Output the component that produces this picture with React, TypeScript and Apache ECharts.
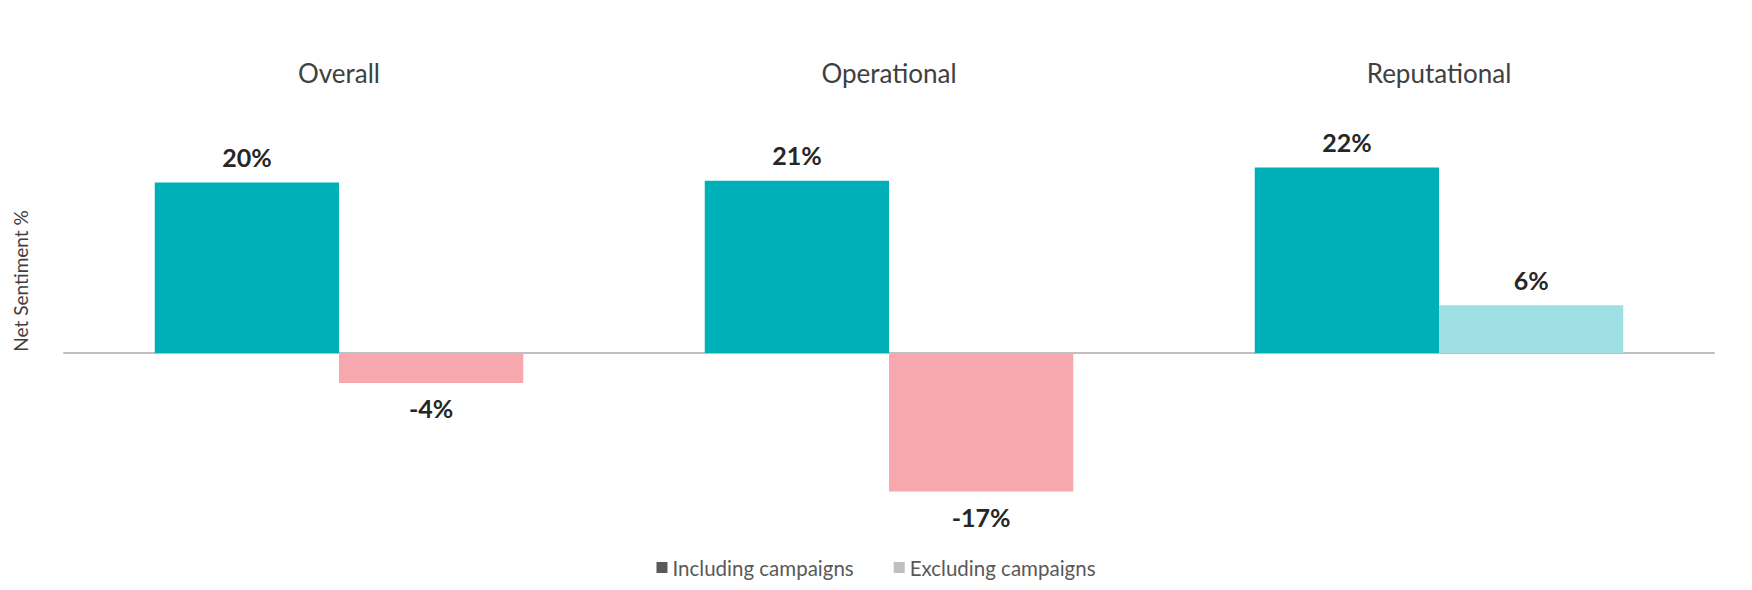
import React, { useEffect, useRef } from "react";
import * as echarts from "echarts";

const categories = ["Overall", "Operational", "Reputational"];
const seriesNames = ["Including campaigns", "Excluding campaigns"];
const including = [20.4, 20.6, 22.2];
const excluding = [-3.6, -16.6, 5.7];
const legendColors = ["#595959", "#BFBFBF"];

const TEAL = "#00B0B9";
const PINK = "#F7A8AF";
const LIGHT_TEAL = "#9DDFE3";

export default function App() {
  const ref = useRef<HTMLDivElement>(null);
  useEffect(() => {
    if (!ref.current) return;
    const chart = echarts.init(ref.current, undefined, { renderer: "svg" });
    const fmt = (p: any) => `${Math.round(p.value)}%`;
    const labelBase = {
      show: true,
      formatter: fmt,
      fontFamily: "Lato",
      fontSize: 25,
      fontWeight: "bold",
      color: "#262626",
    };
    const mkLabel = (v: number) => ({
      ...labelBase,
      position: v >= 0 ? "top" : "bottom",
      distance: v >= 0 ? 13 : 13,
    });
    chart.setOption({
      animation: false,
      textStyle: { fontFamily: "Lato" },
      grid: { left: 64, right: 38, top: 144, bottom: 70 },
      legend: {
        bottom: 7,
        left: "center",
        icon: "rect",
        itemWidth: 11,
        itemHeight: 11,
        itemGap: 40,
        textStyle: { fontFamily: "Lato", fontSize: 20.5, color: "#595959" },
        data: seriesNames.map((n, i) => ({ name: n, itemStyle: { color: legendColors[i] } })),
      },
      xAxis: [
        {
          type: "category",
          data: categories,
          axisLine: { onZero: true, lineStyle: { color: "#BFBFBF", width: 2 } },
          axisTick: { show: false },
          axisLabel: { show: false },
        },
        {
          type: "category",
          position: "top",
          data: categories,
          axisLine: { show: false },
          axisTick: { show: false },
          axisLabel: { margin: 58, fontFamily: "Lato", fontSize: 26, color: "#404040" },
        },
      ],
      yAxis: {
        type: "value",
        min: -20,
        max: 25,
        axisLine: { show: false },
        axisTick: { show: false },
        axisLabel: { show: false },
        splitLine: { show: false },
      },
      graphic: [
        {
          type: "text",
          x: 20,
          y: 281,
          rotation: Math.PI / 2,
          style: {
            text: "Net Sentiment %",
            fontFamily: "Lato",
            fontSize: 19,
            fill: "#404040",
            align: "center",
            verticalAlign: "middle",
          },
        },
      ],
      series: [
        {
          name: seriesNames[0],
          type: "bar",
          xAxisIndex: 0,
          barGap: "0%",
          barCategoryGap: "33%",
          itemStyle: { color: legendColors[0] },
          data: including.map((v) => ({
            value: v,
            itemStyle: { color: TEAL },
            label: mkLabel(v),
          })),
        },
        {
          name: seriesNames[1],
          type: "bar",
          xAxisIndex: 0,
          barGap: "0%",
          barCategoryGap: "33%",
          itemStyle: { color: legendColors[1] },
          data: excluding.map((v) => ({
            value: v,
            itemStyle: { color: v >= 0 ? LIGHT_TEAL : PINK },
            label: mkLabel(v),
          })),
        },
      ],
    });
    return () => chart.dispose();
  }, []);
  return (
    <div
      ref={ref}
      style={{ position: "fixed", left: 0, top: 0, width: 1752, height: 590, background: "#fff" }}
    />
  );
}
